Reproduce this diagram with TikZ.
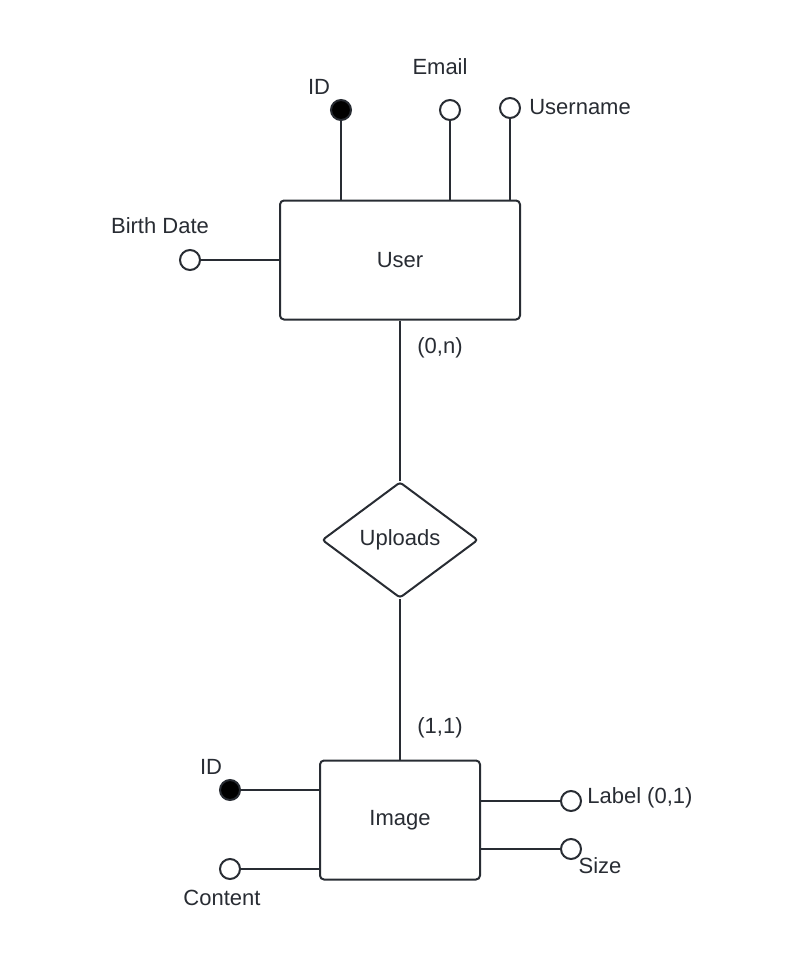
\documentclass[tikz,border=0pt]{standalone}
\usepackage{fontspec}
\setmainfont{Liberation Sans}
\usetikzlibrary{shapes.geometric}
\definecolor{erline}{HTML}{282C33}

\begin{document}
\begin{tikzpicture}[x=1pt,y=-1pt,line width=2pt,draw=erline,
  every node/.style={text=erline,font=\fontsize{22}{26}\selectfont},
  entity/.style={draw=erline,rounded corners=4pt,inner sep=0pt},
  attr/.style={circle,draw=erline,fill=white,minimum size=20pt,inner sep=0pt},
  keyattr/.style={circle,draw=erline,fill=black,minimum size=20pt,inner sep=0pt},
  relation/.style={diamond,draw=erline,rounded corners=3pt,inner sep=0pt,
    minimum width=156pt,minimum height=116pt}]
\useasboundingbox (0,0) rectangle (800,971);
% entities and relation
\node[entity,minimum width=240pt,minimum height=119pt] (user) at (400,260) {User};
\node[relation] (uploads) at (400,540) {Uploads};
\node[entity,minimum width=160pt,minimum height=119pt] (image) at (400,820) {Image};
% user attributes
\node[keyattr] (uid) at (341,110) {};
\node[attr] (uemail) at (450,110) {};
\node[attr] (uname) at (510,108) {};
\node[attr] (ubirth) at (190,260) {};
\node (uidtxt) at (319,87) {ID};
\node (uemailtxt) at (440,67) {Email};
\node[anchor=west] (unametxt) at (525,107) {Username};
\node (ubirthtxt) at (160,226) {Birth Date};
\draw (uid.south) -- (uid.south |- user.north);
\draw (uemail.south) -- (uemail.south |- user.north);
\draw (uname.south) -- (uname.south |- user.north);
\draw (ubirth.east) -- (ubirth.east -| user.west);
% image attributes
\node[keyattr] (iid) at (230,790) {};
\node[attr] (icontent) at (230,869) {};
\node[attr] (ilabel) at (571,801) {};
\node[attr] (isize) at (571,849) {};
\node (iidtxt) at (211,767) {ID};
\node (icontenttxt) at (222,898) {Content};
\node[anchor=west] (ilabeltxt) at (583,798) {Label (0,1)};
\node (isizetxt) at (600,866) {Size};
\draw (iid.east) -- (iid.east -| image.west);
\draw (icontent.east) -- (icontent.east -| image.west);
\draw (ilabel.west) -- (ilabel.west -| image.east);
\draw (isize.west) -- (isize.west -| image.east);
% relationship lines
\draw (user.south) -- (uploads.north);
\draw (uploads.south) -- (image.north);
\node (card1) at (440,348) {(0,n)};
\node (card2) at (440,728) {(1,1)};
\end{tikzpicture}
\end{document}
